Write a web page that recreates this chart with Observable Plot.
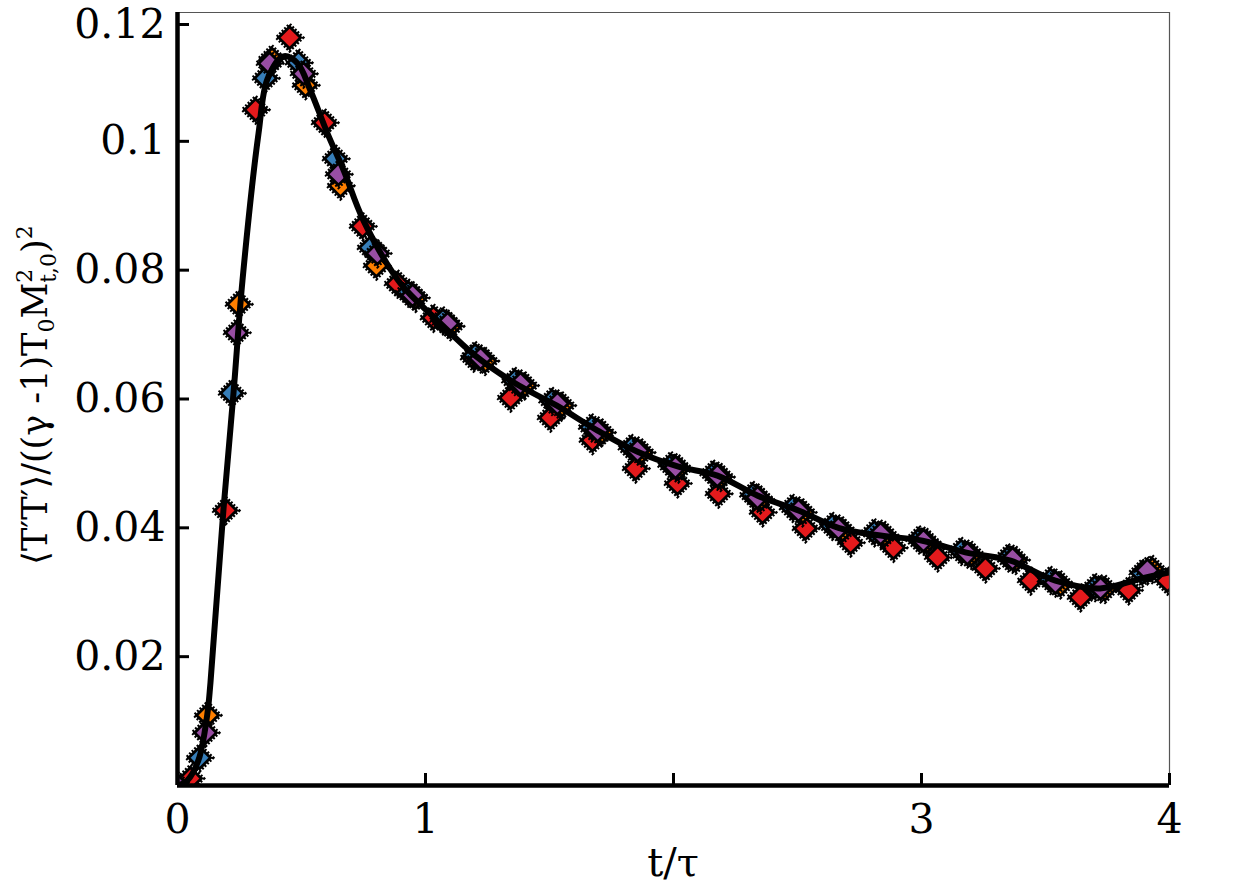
<!DOCTYPE html>
<html><head><meta charset="utf-8">
<script src="https://cdn.jsdelivr.net/npm/d3@7"></script>
<script src="https://cdn.jsdelivr.net/npm/@observablehq/plot@0.6"></script>
<style>body{margin:0;background:#fff}#chart{position:absolute;left:0;top:0}</style>
</head><body><div id="chart"></div>
<script>
// ---- data ----
const redT = [0.052,0.194,0.315,0.452,0.593,0.746,0.887,1.032,1.194,1.343,1.504,1.673,1.847,2.016,2.181,2.359,2.532,2.714,2.887,3.065,3.258,3.440,3.641,3.835,3.992];
const redV = [0.0011,0.0427,0.1049,0.1161,0.1029,0.0868,0.0779,0.0726,0.0664,0.0602,0.0571,0.0536,0.0492,0.0469,0.0453,0.0424,0.0399,0.0377,0.0369,0.0354,0.0337,0.0318,0.0292,0.0303,0.0318];

const blueT = [0.089,0.218,0.355,0.488,0.637,0.778,0.93,1.07,1.20,1.36,1.51,1.67,1.83,1.99,2.16,2.32,2.48,2.64,2.81,2.99,3.16,3.35,3.52,3.70,3.89];
const blueV = [0.0043,0.0609,0.1098,0.1122,0.0973,0.0835,0.0765,0.0722,0.0668,0.0628,0.0597,0.0556,0.0524,0.0497,0.0484,0.0451,0.0431,0.0403,0.0393,0.0382,0.0364,0.0354,0.0319,0.0308,0.0330];

const orangeT = [0.121,0.246,0.38,0.516,0.657,0.802,0.96,1.10,1.24,1.40,1.55,1.71,1.87,2.02,2.19,2.35,2.52,2.68,2.85,3.02,3.20,3.38,3.56,3.74,3.93];
const orangeV = [0.0109,0.0747,0.1128,0.1087,0.0931,0.0807,0.0757,0.0713,0.0659,0.0621,0.0590,0.0548,0.0517,0.0492,0.0479,0.0444,0.0424,0.0396,0.0389,0.0378,0.0358,0.0350,0.0312,0.0305,0.0336];

const purpleT = [0.0,0.113,0.238,0.371,0.508,0.649,0.806,0.948,1.089,1.222,1.383,1.532,1.694,1.855,2.008,2.177,2.339,2.504,2.665,2.835,3.008,3.185,3.367,3.540,3.722,3.911];
const purpleV = [0.0,0.0082,0.0703,0.1121,0.1105,0.0949,0.0826,0.0761,0.0717,0.0663,0.0624,0.0593,0.0551,0.0520,0.0494,0.0481,0.0447,0.0427,0.0399,0.0391,0.0380,0.0360,0.0352,0.0315,0.0306,0.0334];

const lineT = [0,0.04,0.085,0.12,0.133,0.185,0.226,0.262,0.327,0.363,0.427,0.484,0.536,0.605,0.670,0.750,0.90,1.048,1.198,1.363,1.528,1.694,1.855,2.02,2.177,2.339,2.504,2.665,2.835,3.004,3.177,3.359,3.54,3.72,3.883,4.0];
const lineV = [0,0.0008,0.0040,0.0110,0.0160,0.0427,0.0610,0.0784,0.1013,0.1097,0.1132,0.1121,0.1079,0.1012,0.0955,0.0877,0.0779,0.0722,0.0668,0.0624,0.0590,0.0551,0.0518,0.0495,0.0481,0.0450,0.0427,0.0400,0.0388,0.0380,0.0362,0.0349,0.0318,0.0306,0.0321,0.0331];

const xTicks = [0,1,2,3,4];
const xTickLabels = ["0","1","","3","4"];
const yTicks = [0.02,0.04,0.06,0.08,0.1,0.12];
const yTickLabels = ["0.02","0.04","0.06","0.08","0.1","0.12"];

const colors = {red:"#e41a1c", blue:"#377eb8", orange:"#ff7f00", purple:"#984ea3"};
const rows = (ts, vs, s) => ts.map((t, i) => ({t, v: vs[i], s}));
const seriesList = [
  rows(redT, redV, "red"),
  rows(blueT, blueV, "blue"),
  rows(orangeT, orangeV, "orange"),
  rows(purpleT, purpleV, "purple")
];
const lineData = lineT.map((t, i) => ({t, v: lineV[i]}));

const font = "DejaVu Serif";
const marks = [];
for (const data of seriesList) {
  marks.push(Plot.dot(data, {x: "t", y: "v", symbol: "diamond2", r: 12, fill: "none", stroke: "black", strokeWidth: 3.2, strokeDasharray: "2 1.6", clip: true}));
  marks.push(Plot.dot(data, {x: "t", y: "v", symbol: "diamond2", r: 9.8, fill: colors[data[0].s], stroke: "black", strokeWidth: 2.8, clip: true}));
}
marks.push(Plot.line(lineData, {x: "t", y: "v", stroke: "black", strokeWidth: 6, curve: "catmull-rom", clip: true}));
marks.push(Plot.ruleY([0.12], {stroke: "#555", strokeWidth: 1.2}));
marks.push(Plot.ruleX([4], {stroke: "#555", strokeWidth: 1.2}));
marks.push(Plot.ruleX([0], {stroke: "black", strokeWidth: 4.5}));
marks.push(Plot.ruleY([0], {stroke: "black", strokeWidth: 4.5}));
const fmtY = d => yTickLabels[yTicks.indexOf(d)];
marks.push(Plot.axisY(yTicks.slice(0, 5), {anchor: "left", tickSize: -12, tickPadding: 24, strokeWidth: 3, fontSize: 41, label: null, tickFormat: fmtY}));
marks.push(Plot.axisY(yTicks.slice(5), {anchor: "left", tickSize: -12, tickPadding: 24, strokeWidth: 3, fontSize: 41, label: null, tickFormat: fmtY, dy: 12}));
marks.push(Plot.axisX(xTicks, {anchor: "bottom", tickSize: -12, tickPadding: 30, strokeWidth: 3, fontSize: 41, label: null,
  tickFormat: d => xTickLabels[xTicks.indexOf(d)]}));

const chart = Plot.plot({
  width: 1240, height: 886,
  marginLeft: 177, marginRight: 71, marginTop: 12, marginBottom: 101,
  x: {domain: [0, 4]},
  y: {domain: [0, 0.12]},
  style: {fontFamily: font, background: "white", color: "black"},
  marks
});
document.getElementById("chart").appendChild(chart);

const svg = d3.select(chart);
svg.append("text")
  .attr("x", 673).attr("y", 876)
  .attr("text-anchor", "middle")
  .attr("font-family", font).attr("font-size", 40).attr("fill", "black")
  .text("t/τ");

const yl = svg.append("text")
  .attr("transform", "translate(47,395) rotate(-90)")
  .attr("text-anchor", "middle")
  .attr("font-family", font).attr("font-size", 35).attr("fill", "black");
yl.append("tspan").text("⟨T′T′⟩/((γ -1)T");
yl.append("tspan").attr("font-size", 22).attr("dy", 7).text("0");
yl.append("tspan").attr("dy", -7).text("M");
yl.append("tspan").attr("font-size", 22).attr("dy", -15).text("2");
yl.append("tspan").attr("font-size", 22).attr("dx", -14).attr("dy", 24).text("t,0");
yl.append("tspan").attr("dy", -9).text(")");
yl.append("tspan").attr("font-size", 22).attr("dy", -15).text("2");
</script>
</body></html>
